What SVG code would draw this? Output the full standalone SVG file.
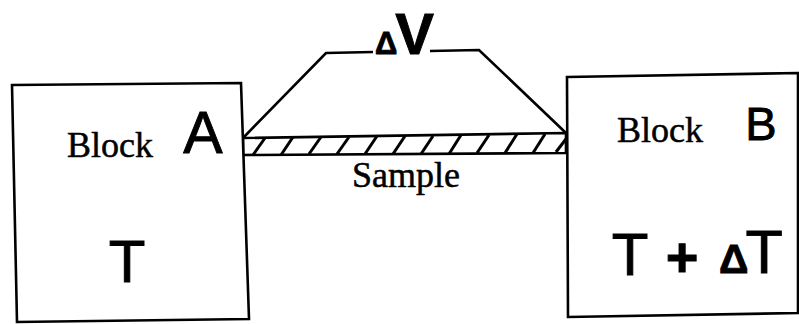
<svg xmlns="http://www.w3.org/2000/svg" width="799" height="324" viewBox="0 0 799 324">
<style>
.ln{fill:none;stroke:#000;stroke-width:2.6;stroke-linejoin:miter}
.box{fill:#fff;stroke:#000;stroke-width:2.6}
.serif{font-family:"Liberation Serif","Times New Roman",serif;fill:#000;stroke:#000;stroke-width:0.5}
.sans{font-family:"Liberation Sans",Arial,sans-serif;fill:#000;stroke:#000;stroke-width:0.9}
.hatch{stroke:#000;stroke-width:3}
</style>
<rect width="799" height="324" fill="#fff"/>
<g id="connectors">
<polyline class="ln" points="243,138 326,53 373,52"/>
<polyline class="ln" points="430,51 479,50 566,133"/>
</g>
<g id="sample">
<polygon class="ln" points="243,138 566,133 566,153 243,155"/>
<g class="hatch">
<line x1="253" y1="155" x2="265" y2="138"/>
<line x1="281" y1="155" x2="293" y2="137"/>
<line x1="309" y1="154" x2="321" y2="137"/>
<line x1="337" y1="154" x2="349" y2="137"/>
<line x1="365" y1="154" x2="377" y2="136"/>
<line x1="393" y1="154" x2="405" y2="136"/>
<line x1="421" y1="154" x2="433" y2="136"/>
<line x1="449" y1="154" x2="461" y2="135"/>
<line x1="477" y1="153" x2="489" y2="135"/>
<line x1="505" y1="153" x2="517" y2="134"/>
<line x1="533" y1="153" x2="545" y2="134"/>
<line x1="556" y1="152" x2="566" y2="139"/>
</g>
<text class="serif" x="406" y="187" font-size="36" text-anchor="middle">Sample</text>
</g>
<g id="deltaV">
<text class="sans" x="375" y="54" font-weight="bold"><tspan font-size="31">Δ</tspan><tspan font-size="58" dx="-2">V</tspan></text>
</g>
<g id="blockA">
<polygon class="box" points="12,85 241,83 249,319 17,322"/>
<text class="serif" x="67" y="157" font-size="36">Block</text>
<text class="sans" x="203" y="153" font-size="59" text-anchor="middle">A</text>
<text class="sans" x="127" y="282" font-size="60" text-anchor="middle">T</text>
</g>
<g id="blockB">
<polygon class="box" points="567,77 798,73 798,313 568,317"/>
<text class="serif" x="617" y="142" font-size="36">Block</text>
<text class="sans" x="761" y="140" font-size="47" text-anchor="middle">B</text>
<text class="sans" x="630" y="275" font-size="60" text-anchor="middle">T</text>
<text class="sans" x="682" y="276" font-size="56" text-anchor="middle" font-weight="bold">+</text>
<text class="sans" x="719" y="273"><tspan font-size="41" font-weight="bold">Δ</tspan><tspan font-size="61" dx="-3">T</tspan></text>
</g>
</svg>
